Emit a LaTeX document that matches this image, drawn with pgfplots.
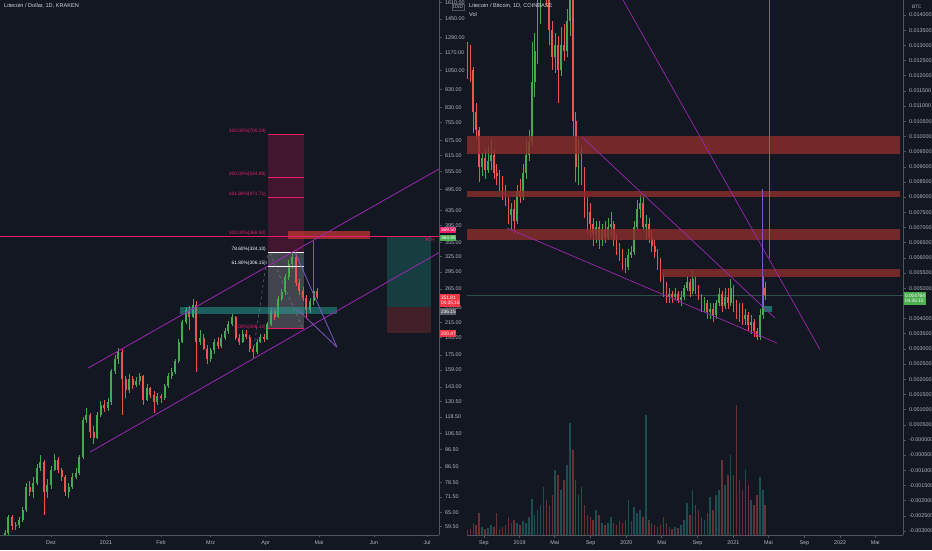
\documentclass[border=0pt]{standalone}
\usepackage{pgfplots}
\pgfplotsset{compat=1.18}
\usepackage{pgfplotstable}
\usepackage{fontspec}
\setmainfont{Liberation Sans}
\definecolor{bgc}{RGB}{19,23,34}
\definecolor{axl}{RGB}{80,84,95}
\definecolor{tck}{RGB}{178,181,190}
\definecolor{ttl}{RGB}{209,212,220}
\definecolor{upc}{RGB}{67,170,80}
\definecolor{dnc}{RGB}{239,83,80}
\definecolor{vupc}{RGB}{38,166,154}
\definecolor{vdnc}{RGB}{239,83,80}
\definecolor{tvpink}{RGB}{233,30,99}
\definecolor{tvpurp}{RGB}{156,39,176}
\definecolor{tvviol}{RGB}{126,87,194}
\definecolor{tvteal}{RGB}{38,166,154}
\definecolor{zred}{RGB}{140,45,45}
\definecolor{boxred}{RGB}{242,54,69}
\definecolor{boxgreen}{RGB}{76,175,80}
\definecolor{boxgray}{RGB}{90,93,104}

\pgfplotsset{
  tv/.style={scale only axis, height=535pt,
    axis x line*=bottom, axis y line*=right,
    axis line style={draw=axl, line width=0.6pt},
    tick style={draw=axl, line width=0.5pt},
    tick align=outside, major tick length=2.5pt,
    xminorticks=false, yminorticks=false,
    ticklabel style={font=\fontsize{5.4}{6}\selectfont, text=tck},
    clip=true},
  candle/.style 2 args={draw=none, mark=none, forget plot,
    /pgfplots/error bars/y dir=plus, /pgfplots/error bars/y explicit,
    /pgfplots/error bars/error mark=none,
    /pgfplots/error bars/error bar style={draw=#1, line width=#2, solid}}
}

% Litecoin / Dollar, 2-day candles: x = days since 1 Dec 2020
\pgfplotstableread{
x l h bl bh
-26 55 58 56 57
-24 56 64 57 63
-20 58 61 59.5 60
-18 59 63 60 62
-16 61 67 62 66
-14 65 78 66 76
-10 71 81 74 78
-8 77 88 78 86
-6 84 93 86 89
-2 71 80 74 77
0 75 87 77 85
2 84 94 85 90
10 71 78 74 76
12 75 83 76 81
14 80 86 81 83
16 82 93 83 92
18 91 118 92 116
20 114 125 116 120
26 103 122 104 120
28 118 131 120 128
32 123 133 125 130
34 128 160 130 158
36 155 175 158 170
38 165 183 170 178
44 138 155 140 150
48 143 152 145 148
50 145 156 148 153
54 131 146 132 142
60 128 138 130 135
64 132 146 133 144
66 142 156 144 153
68 150 161 153 157
70 155 171 157 168
72 166 193 168 190
74 188 218 190 215
76 212 236 215 232
80 220 248 222 240
84 186 205 190 195
90 167 183 170 180
92 176 194 180 190
96 183 199 185 195
98 192 207 195 203
100 200 216 203 212
102 210 227 212 222
108 188 204 190 200
116 176 193 178 190
118 188 200 190 196
122 192 215 194 212
124 210 235 212 230
128 220 253 222 248
130 245 265 248 260
132 255 292 260 285
134 280 318 285 310
136 300 334 310 325
146 228 250 232 245
148 240 268 245 262
}\lup
\pgfplotstableread{
x l h bl bh
-22 58 64 59.5 63
-12 72 79 74 76
-4 64 90 74 89
4 83 92 85 90
6 79 86 81 85
8 72 82 74 81
22 104 121 108 120
24 100 112 104 108
30 122 132 125 128
40 120 181 150 178
42 133 153 140 150
46 141 153 145 150
52 128 154 132 153
56 133 143 136 142
58 121 139 130 136
62 129 137 133 135
78 205 238 222 232
82 157 246 190 240
86 180 200 182 195
88 165 186 170 182
94 182 196 185 190
104 192 224 195 222
106 186 200 190 195
110 193 205 196 200
112 178 198 182 196
114 172 185 178 182
120 190 199 194 196
126 218 234 222 230
138 270 330 275 325
140 255 282 262 275
142 245 268 250 262
144 222 255 232 250
150 248 266 251.81 262
}\ldn

% Litecoin / Bitcoin, 10-day candles: x = days since 1 Jan 2019
\pgfplotstableread{
x l h bl bh
-178 0.0119 0.0131 0.0122 0.0128
-128 0.0087 0.0095 0.0090 0.0093
-108 0.0088 0.0097 0.0089 0.0092
-98 0.0089 0.0099 0.0092 0.0094
-28 0.0069 0.0078 0.0074 0.0076
-8 0.0071 0.0084 0.0072 0.0082
12 0.0079 0.0091 0.0080 0.0088
22 0.0086 0.0099 0.0088 0.0094
32 0.0092 0.0102 0.0094 0.0098
42 0.0097 0.0131 0.0098 0.0118
52 0.0113 0.0134 0.0118 0.0128
62 0.0124 0.0145 0.0128 0.0140
72 0.0137 0.0155 0.0140 0.0150
82 0.0146 0.0165 0.0150 0.0158
122 0.0121 0.0134 0.0126 0.0130
142 0.0120 0.0136 0.0122 0.0130
162 0.0126 0.0142 0.0128 0.0138
172 0.0133 0.0150 0.0138 0.0146
202 0.0084 0.0099 0.0090 0.0094
262 0.0065 0.0072 0.0068 0.0070
282 0.0064 0.0071 0.0066 0.0069
302 0.0066 0.0073 0.0067 0.0070
312 0.0067 0.0075 0.0070 0.0071
372 0.0056 0.0063 0.0057 0.0061
382 0.0060 0.0064 0.0061 0.0062
392 0.0061 0.0072 0.0062 0.0070
402 0.0069 0.0079 0.0070 0.0076
412 0.0073 0.0081 0.0076 0.0078
432 0.0066 0.0074 0.0070 0.0071
512 0.0045 0.0050 0.0047 0.0048
532 0.0046 0.0050 0.0047 0.0048
552 0.0044 0.0049 0.0046 0.0047
562 0.0046 0.0051 0.0047 0.0050
572 0.0049 0.0054 0.0050 0.0052
592 0.0048 0.0056 0.0049 0.0053
632 0.0042 0.0047 0.0044 0.0045
652 0.0040 0.0045 0.0042 0.0043
672 0.0040 0.0046 0.0041 0.0045
682 0.0044 0.0050 0.0045 0.0048
702 0.0043 0.0050 0.0044 0.0047
722 0.0044 0.0053 0.0045 0.0050
752 0.0039 0.0045 0.0042 0.0044
772 0.0038 0.0043 0.0040 0.0041
792 0.0035 0.0041 0.0038 0.0039
822 0.0033 0.0043 0.0034 0.0041
832 0.0040 0.0054 0.0041 0.0050
}\rup
\pgfplotstableread{
x l h bl bh
-168 0.0118 0.0130 0.0122 0.0128
-158 0.0101 0.0123 0.0108 0.0122
-148 0.0099 0.0111 0.0102 0.0108
-138 0.0085 0.0103 0.0090 0.0102
-118 0.0086 0.0096 0.0089 0.0093
-88 0.0086 0.0096 0.0088 0.0094
-78 0.0084 0.0091 0.0087 0.0088
-68 0.0082 0.0089 0.0085 0.0087
-58 0.0079 0.0087 0.0082 0.0085
-48 0.0077 0.0084 0.0079 0.0082
-38 0.0071 0.0080 0.0074 0.0079
-18 0.0068 0.0079 0.0072 0.0076
2 0.0078 0.0086 0.0080 0.0082
92 0.0143 0.0162 0.0148 0.0158
102 0.0130 0.0150 0.0135 0.0148
112 0.0122 0.0138 0.0126 0.0135
132 0.0111 0.0133 0.0122 0.0130
152 0.0125 0.0137 0.0128 0.0130
182 0.0100 0.0148 0.0105 0.0146
192 0.0085 0.0108 0.0090 0.0105
212 0.0084 0.0097 0.0088 0.0094
222 0.0073 0.0090 0.0078 0.0088
232 0.0068 0.0080 0.0075 0.0078
242 0.0067 0.0078 0.0071 0.0075
252 0.0064 0.0073 0.0068 0.0071
272 0.0063 0.0072 0.0066 0.0070
292 0.0065 0.0072 0.0067 0.0069
322 0.0064 0.0072 0.0066 0.0071
332 0.0061 0.0068 0.0063 0.0066
342 0.0059 0.0065 0.0061 0.0063
352 0.0056 0.0063 0.0058 0.0061
362 0.0055 0.0060 0.0057 0.0058
422 0.0069 0.0080 0.0070 0.0078
442 0.0065 0.0073 0.0067 0.0071
452 0.0062 0.0069 0.0064 0.0067
462 0.0060 0.0066 0.0062 0.0064
472 0.0056 0.0063 0.0059 0.0062
482 0.0052 0.0060 0.0054 0.0059
492 0.0047 0.0055 0.0050 0.0054
502 0.0045 0.0052 0.0047 0.0050
522 0.0045 0.0049 0.0047 0.0048
542 0.0045 0.0049 0.0046 0.0048
582 0.0047 0.0053 0.0049 0.0052
602 0.0048 0.0054 0.0050 0.0053
612 0.0046 0.0051 0.0047 0.0050
622 0.0042 0.0048 0.0044 0.0047
642 0.0040 0.0046 0.0042 0.0045
662 0.0039 0.0045 0.0041 0.0043
692 0.0042 0.0049 0.0044 0.0048
712 0.0043 0.0050 0.0045 0.0047
732 0.0042 0.0051 0.0044 0.0050
742 0.0040 0.0046 0.0042 0.0044
762 0.0038 0.0045 0.0040 0.0044
782 0.0036 0.0042 0.0038 0.0041
802 0.0034 0.0040 0.0036 0.0039
812 0.0033 0.0037 0.0034 0.0036
840 0.0046 0.0052 0.004764 0.0050
}\rdn

% volume (relative units)
\pgfplotstableread{
x v
-178 5
-128 8
-108 7
-98 10
-28 12
-8 12
12 14
22 12
32 18
42 36
52 20
62 25
72 30
82 48
122 65
142 45
162 70
172 112
202 40
262 25
282 12
302 12
312 18
372 35
382 14
392 28
402 22
412 25
432 120
512 8
532 8
552 10
562 15
572 32
592 45
632 15
652 38
672 40
682 45
702 50
722 80
752 55
772 65
792 35
822 58
832 45
}\vupt
\pgfplotstableread{
x v
-168 6
-158 12
-148 10
-138 22
-118 6
-88 8
-78 22
-68 6
-58 8
-48 10
-38 18
-18 15
2 10
92 35
102 30
112 40
132 60
152 55
182 85
192 55
212 48
222 30
232 20
242 18
252 15
272 20
292 10
322 12
332 10
342 14
352 12
362 15
422 18
442 15
452 12
462 10
472 8
482 10
492 18
502 12
522 6
542 7
582 20
602 30
612 25
622 18
642 22
662 25
692 75
712 60
732 60
742 130
762 45
782 50
802 30
812 40
840 30
}\vdnt

\begin{document}
\begin{tikzpicture}
\useasboundingbox (0,0) rectangle (932pt,550pt);
\fill[bgc] (0,0) rectangle (932pt,550pt);

% ---------------- left chart: Litecoin / Dollar ----------------
\begin{axis}[tv, at={(0pt,15pt)}, anchor=south west, width=439pt,
  xmin=-28.75, xmax=218.7, ymode=log, ymin=56.3, ymax=1634,
  xtick={0,31,62,90,121,151,182,212},
  xticklabels={Dez,2021,Feb,Mrz,Apr,Mai,Jun,Jul},
  ytick={59.5,65,71.5,78.5,86.5,96.5,106.5,118.5,130.5,143,159,175,195,215,235,265,295,325,355,395,435,495,555,615,675,755,830,930,1050,1170,1290,1450,1610},
  yticklabels={59.50,65.00,71.50,78.50,86.50,96.50,106.50,118.50,130.50,143.00,159.00,175.00,195.00,215.00,235.00,265.00,295.00,325.00,355.00,395.00,435.00,495.00,555.00,615.00,675.00,755.00,830.00,930.00,1050.00,1170.00,1290.00,1450.00,1610.00}]
% fib extension box
\fill[fill={rgb,255:red,72;green,22;blue,48}, opacity=0.9] (axis cs:122.3,334.1) rectangle (axis cs:142.6,700.29);
\fill[white, opacity=0.2] (axis cs:122.3,206.1) rectangle (axis cs:142.6,334.1);
% long position tool
\fill[fill={rgb,255:red,22;green,62;blue,64}] (axis cs:189.4,236.15) rectangle (axis cs:214.2,367.4);
\fill[fill={rgb,255:red,66;green,32;blue,40}] (axis cs:189.4,200.47) rectangle (axis cs:214.2,236.15);
% candles
\addplot[candle={upc}{0.5pt}] table[x=x, y=l, y error plus expr=\thisrow{h}-\thisrow{l}] {\lup};
\addplot[candle={upc}{2pt}] table[x=x, y=bl, y error plus expr=\thisrow{bh}-\thisrow{bl}] {\lup};
\addplot[candle={dnc}{0.5pt}] table[x=x, y=l, y error plus expr=\thisrow{h}-\thisrow{l}] {\ldn};
\addplot[candle={dnc}{2pt}] table[x=x, y=bl, y error plus expr=\thisrow{bh}-\thisrow{bl}] {\ldn};
% zones
\fill[tvteal, opacity=0.5] (axis cs:72.7,226.3) rectangle (axis cs:161.2,236.4);
\fill[fill={rgb,255:red,200;green,55;blue,55}, opacity=0.7] (axis cs:133.6,363) rectangle (axis cs:179.8,382);
% fib lines
\draw[tvpink, line width=0.8pt] (axis cs:122.3,700.29) -- (axis cs:142.6,700.29);
\draw[tvpink, line width=0.8pt] (axis cs:122.3,534.89) -- (axis cs:142.6,534.89);
\draw[tvpink, line width=0.8pt] (axis cs:122.3,471.71) -- (axis cs:142.6,471.71);
\draw[white, line width=0.8pt] (axis cs:122.3,334.1) -- (axis cs:142.6,334.1);
\draw[white, line width=0.8pt] (axis cs:122.3,306.15) -- (axis cs:142.6,306.15);
\draw[tvpink, line width=0.8pt] (axis cs:122.3,206.1) -- (axis cs:142.6,206.1);
\draw[tvpink, line width=0.7pt] (axis cs:-28.75,369.5) -- (axis cs:218.7,369.5);
% dashed helper lines
\draw[gray, dashed, line width=0.4pt] (axis cs:113.9,177) -- (axis cs:122.3,334.4);
\draw[gray, dashed, line width=0.4pt] (axis cs:123.4,332) -- (axis cs:141.5,208.5);
% channel and pattern lines
\draw[tvpurp, line width=0.8pt] (axis cs:20.9,161) -- (axis cs:219.3,566);
\draw[tvpurp, line width=0.8pt] (axis cs:22,94.9) -- (axis cs:219.3,334.4);
\draw[tvviol, line width=0.8pt] (axis cs:137.5,334) -- (axis cs:161.2,183.7);
\draw[tvviol, line width=0.8pt] (axis cs:138.7,233.5) -- (axis cs:161.2,183.7);
\draw[tvviol, line width=0.9pt] (axis cs:147.7,358.3) -- (axis cs:147.7,259.8);
\end{axis}

% ---------------- right chart: volume ----------------
\begin{axis}[scale only axis, at={(467pt,15pt)}, anchor=south west, width=436pt, height=535pt,
  xmin=-179.5, xmax=1311, ymin=0, ymax=535, hide axis]
\addplot[ycomb, draw=vupc, draw opacity=0.4, line width=1.5pt, mark=none] table[x=x, y=v] {\vupt};
\addplot[ycomb, draw=vdnc, draw opacity=0.4, line width=1.5pt, mark=none] table[x=x, y=v] {\vdnt};
\end{axis}

% ---------------- right chart: Litecoin / Bitcoin ----------------
\begin{axis}[tv, at={(467pt,15pt)}, anchor=south west, width=436pt,
  xmin=-179.5, xmax=1311, ymin=-0.003132, ymax=0.014494,
  scaled y ticks=false,
  xtick={-122,0,120,243,365,486,609,731,851,974,1096,1216},
  xticklabels={Sep,2019,Mai,Sep,2020,Mai,Sep,2021,Mai,Sep,2022,Mai},
  ytick={-0.003,-0.0025,-0.002,-0.0015,-0.001,-0.0005,0,0.0005,0.001,0.0015,0.002,0.0025,0.003,0.0035,0.004,0.005,0.0055,0.006,0.0065,0.007,0.0075,0.008,0.0085,0.009,0.0095,0.01,0.0105,0.011,0.0115,0.012,0.0125,0.013,0.0135,0.014},
  yticklabels={-0.003000,-0.002500,-0.002000,-0.001500,-0.001000,-0.000500,-0.000000,0.000500,0.001000,0.001500,0.002000,0.002500,0.003000,0.003500,0.004000,0.005000,0.005500,0.006000,0.006500,0.007000,0.007500,0.008000,0.008500,0.009000,0.009500,0.010000,0.010500,0.011000,0.011500,0.012000,0.012500,0.013000,0.013500,0.014000}]
\draw[draw={rgb,255:red,45;green,80;blue,70}, line width=0.5pt] (axis cs:-179.5,0.004764) -- (axis cs:1311,0.004764);
\addplot[candle={upc}{0.5pt}] table[x=x, y=l, y error plus expr=\thisrow{h}-\thisrow{l}] {\rup};
\addplot[candle={upc}{1.7pt}] table[x=x, y=bl, y error plus expr=\thisrow{bh}-\thisrow{bl}] {\rup};
\addplot[candle={dnc}{0.5pt}] table[x=x, y=l, y error plus expr=\thisrow{h}-\thisrow{l}] {\rdn};
\addplot[candle={dnc}{1.7pt}] table[x=x, y=bl, y error plus expr=\thisrow{bh}-\thisrow{bl}] {\rdn};
% zones
\fill[zred, opacity=0.8] (axis cs:-179.5,0.00942) rectangle (axis cs:1300,0.01001);
\fill[zred, opacity=0.8] (axis cs:-179.5,0.00800) rectangle (axis cs:1300,0.00820);
\fill[zred, opacity=0.8] (axis cs:-179.5,0.00659) rectangle (axis cs:1300,0.00695);
\fill[zred, opacity=0.8] (axis cs:487,0.00537) rectangle (axis cs:1300,0.00563);
\fill[tvteal, opacity=0.6] (axis cs:832,0.004213) rectangle (axis cs:863,0.004411);
% trend lines
\draw[tvpurp, line width=0.7pt] (axis cs:353.8,0.014494) -- (axis cs:1027,0.00298);
\draw[tvpurp, line width=0.7pt] (axis cs:213.7,0.00998) -- (axis cs:873.5,0.004016);
\draw[tvpurp, line width=0.7pt] (axis cs:-42.7,0.006981) -- (axis cs:880.3,0.003192);
\draw[tvviol, line width=0.9pt] (axis cs:829,0.008267) -- (axis cs:829,0.004379);
\draw[tvviol, line width=0.9pt] (axis cs:853,0.014494) -- (axis cs:853,0.005993);
\end{axis}

% ---------------- labels ----------------
\begin{scope}[every node/.style={font=\fontsize{5.6}{6}\selectfont, text=ttl, inner sep=0pt}]
\node[anchor=west] at (4pt,544pt) {Litecoin / Dollar, 1D, KRAKEN};
\node[anchor=west] at (469pt,544pt) {Litecoin / Bitcoin, 1D, COINBASE};
\node[anchor=west] at (469pt,535pt) {Vol};
\end{scope}
\begin{scope}[every node/.style={font=\fontsize{4.8}{5}\selectfont, inner sep=0pt, anchor=east}]
\node[text=tvpink] at (266pt,419pt) {300.00\%(700.29)};
\node[text=tvpink] at (266pt,376pt) {200.00\%(534.89)};
\node[text=tvpink] at (266pt,356pt) {161.80\%(471.71)};
\node[text=tvpink] at (266pt,317pt) {100.00\%(369.50)};
\node[text=white] at (266pt,301pt) {78.60\%(334.10)};
\node[text=white] at (266pt,287pt) {61.80\%(306.15)};
\node[text=tvpink] at (266pt,223pt) {0.00\%(206.10)};
\node[text=tvpink, anchor=center] at (430pt,310pt) {ATH};
\end{scope}
\begin{scope}[every node/.style={font=\fontsize{4.8}{5}\selectfont, inner sep=0.8pt, anchor=west, text=white, minimum height=6.5pt}]
\node[fill=bgc, text=tck, draw=axl, line width=0.3pt] at (452pt,543pt) {USD};
\node[fill=tvpink] at (440pt,320pt) {369.50};
\node[fill=boxgreen] at (440pt,312pt) {364.95};
\node[fill=boxred, align=left, minimum height=13pt] at (440pt,250pt) {251.81\\04:35:15};
\node[fill=boxgray] at (440pt,238.5pt) {236.15};
\node[fill=boxred] at (440pt,216.5pt) {200.47};
\node[fill=boxgreen, align=left, minimum height=13pt] at (904pt,252pt) {0.004764\\04:35:15};
\node[fill=bgc, text=tck] at (911pt,543pt) {BTC};
\end{scope}
\end{tikzpicture}
\end{document}
